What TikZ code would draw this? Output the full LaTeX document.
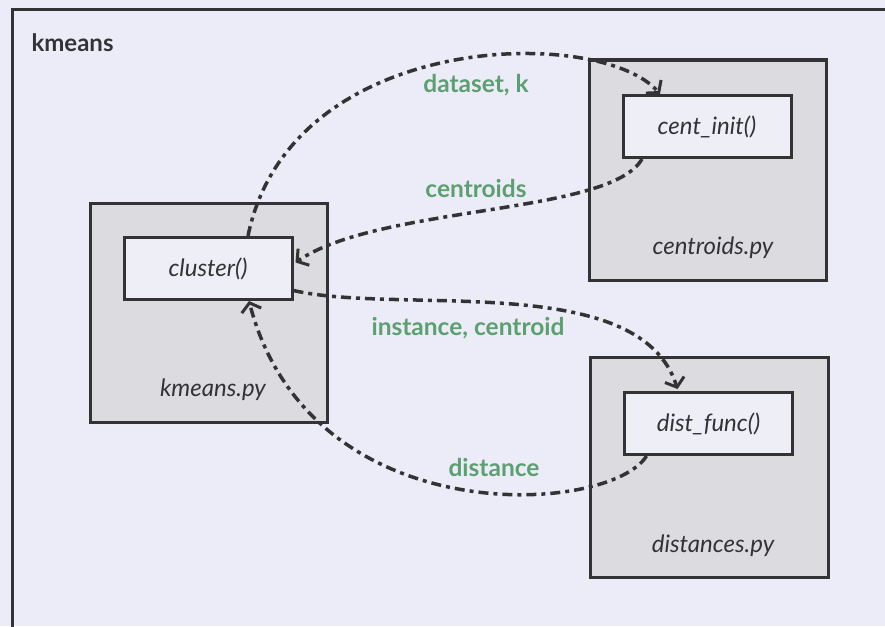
\documentclass[tikz,border=0pt]{standalone}
\usepackage{fontspec}
\setmainfont{Lato}
\usetikzlibrary{arrows.meta,calc}
\definecolor{paper}{HTML}{ECECF8}
\definecolor{ink}{HTML}{333335}
\definecolor{modfill}{HTML}{DCDCE0}
\definecolor{funcfill}{HTML}{EEEEF7}
\definecolor{msg}{HTML}{5C9F70}
\tikzset{
  frame/.style={draw=ink, line width=3pt},
  modbox/.style={draw=ink, line width=3pt, fill=modfill, inner sep=0pt},
  funcbox/.style={draw=ink, line width=3pt, fill=funcfill, inner sep=0pt,
    minimum width=168pt, minimum height=62pt, font=\fontsize{24}{28}\selectfont\itshape, text=ink},
  filename/.style={font=\fontsize{24}{28}\selectfont\itshape, text=ink},
  msglabel/.style={font=\fontsize{24.5}{29}\selectfont\bfseries, text=msg},
  call/.style={draw=ink, line width=3.5pt,
    dash pattern=on 10pt off 5pt on 4pt off 5pt,
    -{Straight Barb[length=8pt,width=20pt,line width=3pt]}}
}
\begin{document}
\begin{tikzpicture}[x=1pt,y=-1pt]
\useasboundingbox (0,0) rectangle (885,626);
\clip (0,0) rectangle (885,626);
\fill[paper] (0,0) rectangle (885,626);
% package frame, running off the page at right and bottom
\draw[frame] (12,10) rectangle (905,645);
\node[anchor=west, font=\fontsize{24}{28}\selectfont\bfseries, text=ink] (title) at (28,43) {kmeans};

% modules
\node[modbox, minimum width=237pt, minimum height=219pt] (kmeansmod) at (208.5,312.5) {};
\node[modbox, minimum width=237pt, minimum height=220pt] (centmod) at (707.5,170) {};
\node[modbox, minimum width=238pt, minimum height=220pt] (distmod) at (709,467) {};

\node[filename] (kmeansfile) at (213,390) {kmeans.py};
\node[filename] (centfile) at (713,248) {centroids.py};
\node[filename] (distfile) at (713,546) {distances.py};

% functions
\node[funcbox] (cluster) at (208,268.5) {cluster()};
\node[funcbox] (centinit) at (707,126.5) {cent\_init()};
\node[funcbox] (distfunc) at (708.5,423.5) {dist\_func()};

% calls
\draw[call] ($(cluster.north)+(40,0)$) .. controls (290,30) and (600,25) .. ($(centinit.north)+(-47,0)$);
\draw[call] ($(centinit.south)+(-65,0)$) .. controls (610,215) and (380,205) .. ($(cluster.east)+(2,-6)$);
\draw[call] ($(cluster.east)+(0,22)$) .. controls (400,315) and (640,270) .. ($(distfunc.north)+(-31,-2)$);
\draw[call] ($(distfunc.south)+(-62,0)$) .. controls (610,515) and (310,535) .. ($(cluster.south)+(41,0)$);

% messages
\node[msglabel] (lblinit) at (476,85) {dataset, k};
\node[msglabel] (lblcent) at (476,188) {centroids};
\node[msglabel] (lblinst) at (468,328) {instance, centroid};
\node[msglabel] (lbldist) at (494,467) {distance};
\end{tikzpicture}
\end{document}
